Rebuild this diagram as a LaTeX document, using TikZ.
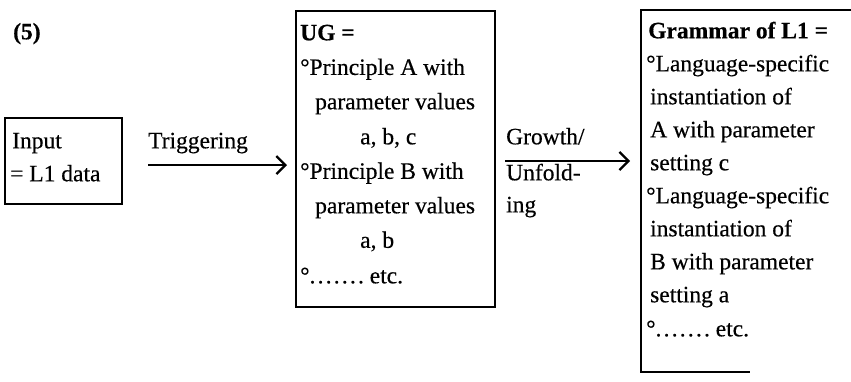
\documentclass[tikz,border=0pt]{standalone}
\usepackage{fontspec}
\setmainfont{Liberation Serif}[FakeBold=0.4]
\usetikzlibrary{arrows.meta}
\newcommand\dotrow{.\kern2.2pt.\kern2.2pt.\kern2.2pt.\kern2.2pt.\kern2.2pt.\kern2.2pt.}
\begin{document}
\begin{tikzpicture}[x=1pt,y=-1pt,
  font=\fontsize{23.5}{27}\selectfont,
  txt/.style={anchor=mid west, inner sep=0pt},
  boldtxt/.style={anchor=mid west, inner sep=0pt, font=\fontsize{23.5}{27}\selectfont\bfseries},
  boxline/.style={line width=1.9pt},
  frame/.style={draw, line width=1.9pt, inner sep=0pt, anchor=north west},
  arr/.style={line width=2.3pt, -{Straight Barb[length=9pt,width=18pt,line width=2.3pt]}}]
\useasboundingbox[fill=white] (0,0) rectangle (851,381);

% label
\node[boldtxt] (num) at (13,37) {(5)};

% Input box
\node[frame, minimum width=117pt, minimum height=86pt] (input) at (4,117) {};
\node[txt] (in1) at (12,146) {Input};
\node[txt] (in2) at (10,179) {= L1 data};

% UG box
\node[frame, minimum width=199pt, minimum height=296pt] (ug) at (295,10) {};
\node[boldtxt] (ug0) at (300,38) {UG =};
\node[txt] (ug1) at (300,72.6) {°Principle A with};
\node[txt] (ug2) at (315,107) {parameter values};
\node[txt] (ug3) at (360,142) {a, b, c};
\node[txt] (ug4) at (300,176.5) {°Principle B with};
\node[txt] (ug5) at (315,211) {parameter values};
\node[txt] (ug6) at (360,245.5) {a, b};
\node[txt] (ug7) at (300,281) {°\dotrow\ etc.};

% Grammar box (open on the right)
\node[inner sep=0pt, minimum width=210pt, minimum height=362pt, anchor=north west] (gram) at (641,10) {};
\coordinate (gbend) at (750,372);
\draw[boxline] (gram.north east) -- (gram.north west) -- (gram.west |- gbend) -- (gbend);
\node[boldtxt] (g0) at (648,36) {Grammar of L1 =};
\node[txt] (g1) at (646,69) {°Language-specific};
\node[txt] (g2) at (650,102) {instantiation of};
\node[txt] (g3) at (650,135) {A with parameter};
\node[txt] (g4) at (650,168) {setting c};
\node[txt] (g5) at (646,201) {°Language-specific};
\node[txt] (g6) at (650,234) {instantiation of};
\node[txt] (g7) at (650,267) {B with parameter};
\node[txt] (g8) at (650,300) {setting a};
\node[txt] (g9) at (646,334) {°\dotrow\ etc.};

% Triggering arrow
\coordinate (t1) at (148,165);
\node[txt] (trig) at (148,146) {Triggering};
\draw[arr] (t1) -- ([xshift=-8pt]ug.west |- t1);

% Growth arrow
\coordinate (g1s) at (505,161);
\node[txt] (gr1) at (506,142) {Growth/};
\node[txt] (gr2) at (506,178) {Unfold-};
\node[txt] (gr3) at (506,210) {ing};
\draw[arr] (g1s) -- ([xshift=-11pt]gram.west |- g1s);
\end{tikzpicture}
\end{document}
